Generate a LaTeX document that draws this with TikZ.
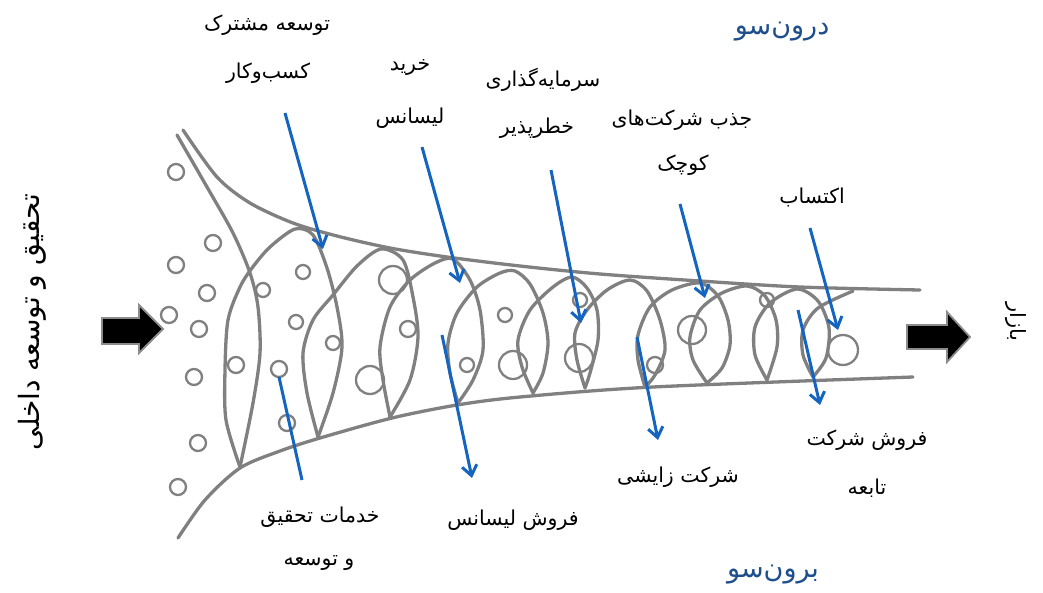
\documentclass[tikz,border=0pt]{standalone}
\usepackage{fontspec}
\usetikzlibrary{arrows.meta}
\TeXXeTstate=1
\newfontfamily\fa[Script=Arabic]{DejaVu Sans}
\definecolor{fgray}{RGB}{128,128,128}
\definecolor{fblue}{RGB}{21,101,192}
\definecolor{tblue}{RGB}{31,78,140}
\tikzset{
  coil/.style={draw=fgray, line width=3.3pt, line join=round, line cap=round},
  bub/.style={draw=fgray, line width=2.3pt},
  barrow/.style={draw=fblue, line width=3pt, -{Straight Barb[length=10pt,width=15pt,line width=3pt]}},
  bline/.style={draw=fblue, line width=3pt},
  lbl/.style={font=\fa\fontsize{20.5}{24}\selectfont, text=black, inner sep=0pt},
  ttl/.style={font=\fa\fontsize{27}{30}\selectfont, text=tblue, inner sep=0pt},
  side/.style={font=\fa\fontsize{28}{32}\selectfont, text=black, inner sep=0pt},
  sider/.style={font=\fa\fontsize{21}{24}\selectfont, text=black, inner sep=0pt},
  blk/.style={fill=black, draw=black!45, line width=1.8pt, line join=miter}
}
\begin{document}
\begin{tikzpicture}[x=1pt,y=-1pt]
\useasboundingbox (0,0) rectangle (1043,592);
% funnel boundaries
\draw[coil] plot[smooth] coordinates {(183,130) (217,177) (250,203) (293,223) (337,236) (390,248) (447,257) (520,266) (600,274) (700,281) (800,287) (920,290)};
\draw[coil] plot[smooth] coordinates {(178,538) (205,500) (240,468) (280,451) (320,438) (392,418) (457,405) (520,397) (653,387) (913,377)};
\draw[coil] plot[smooth] coordinates {(177,135) (207,187) (233,233) (250,273) (258,307) (260,353) (253,403) (240,467)};
% coils
\draw[coil] plot[smooth] coordinates {(240,467) (226,420) (225,370) (228,320) (240,287) (252,268) (270,247) (295,229) (313,235) (327,268) (337,307) (342,347) (333,393) (318,437)};
\draw[coil] plot[smooth] coordinates {(318,437) (307,393) (303,353) (313,320) (333,295) (357,266) (381,249) (403,260) (413,297) (418,337) (410,380) (390,417)};
\draw[coil] plot[smooth] coordinates {(390,417) (383,380) (380,347) (390,307) (410,280) (435,263) (453,259) (470,280) (480,310) (483,350) (473,380) (458,403)};
\draw[coil] plot[smooth] coordinates {(458,403) (450,373) (448,343) (457,313) (477,287) (500,273) (515,271) (530,284) (543,313) (548,343) (543,373) (533,393)};
\draw[coil] plot[smooth] coordinates {(533,393) (522,367) (518,340) (530,310) (553,287) (572,277) (587,288) (597,310) (598,340) (590,373) (585,388)};
\draw[coil] plot[smooth] coordinates {(585,388) (577,360) (575,333) (587,310) (607,290) (630,280) (647,291) (660,320) (665,350) (655,375) (645,387)};
\draw[coil] plot[smooth] coordinates {(645,387) (638,360) (638,335) (650,307) (672,290) (700,283) (718,296) (728,320) (730,345) (722,368) (707,383)};
\draw[coil] plot[smooth] coordinates {(707,383) (693,360) (690,337) (700,310) (722,293) (747,286) (765,296) (776,320) (777,347) (767,380)};
\draw[coil] plot[smooth] coordinates {(767,380) (755,355) (755,327) (770,303) (797,289) (818,301) (829,328) (826,358) (813,377)};
\draw[coil] plot[smooth] coordinates {(813,377) (803,355) (803,330) (818,308) (853,291)};
% bubbles
\foreach \x/\y/\r in {176/172/8, 213/243/8, 176/265/8, 207/293/8, 169/315/8, 199/329/8, 194/377/8, 198/443/8, 178/487/8,
  263/290/7, 303/272/7, 296/322/7, 236/365/8, 279/369/8, 287/423/8, 393/280/14, 333/343/7, 408/329/8, 370/380/14,
  505/315/7, 467/365/7, 513/365/14, 580/300/7, 579/358/14, 655/365/8, 692/330/14, 767/300/7, 843/350/15}
  \draw[bub] (\x,\y) circle[radius=\r];
% block arrows
\draw[blk] (102,318) -- (139,318) -- (139,305) -- (163,329) -- (139,353) -- (139,344) -- (102,344) -- cycle;
\draw[blk] (907,325) -- (947,325) -- (947,312) -- (970,337) -- (947,362) -- (947,349) -- (907,349) -- cycle;
% labels
\node[lbl] (t1) at (267,25) {\beginR توسعه مشترک\endR};
\node[lbl] (t1b) at (268,73) {\beginR کسب^^^^200cوکار\endR};
\node[lbl] (t2) at (410,67) {\beginR خرید\endR};
\node[lbl] (t2b) at (410,118) {\beginR لیسانس\endR};
\node[lbl] (t3) at (543,80) {\beginR سرمایه^^^^200cگذاری\endR};
\node[lbl] (t3b) at (537,128) {\beginR خطرپذیر\endR};
\node[lbl] (t4) at (682,120) {\beginR جذب شرکت^^^^200cهای\endR};
\node[lbl] (t4b) at (683,165) {\beginR کوچک\endR};
\node[lbl] (t5) at (812,197) {\beginR اکتساب\endR};
\node[ttl] (tin) at (782,32) {\beginR درون^^^^200cسو\endR};
\node[lbl] (b1) at (320,517) {\beginR خدمات تحقیق\endR};
\node[lbl] (b1b) at (319,563) {\beginR و توسعه\endR};
\node[lbl] (b2) at (513,520) {\beginR فروش لیسانس\endR};
\node[lbl] (b3) at (678,477) {\beginR شرکت زایشی\endR};
\node[lbl] (b4) at (867,440) {\beginR فروش شرکت\endR};
\node[lbl] (b4b) at (867,488) {\beginR تابعه\endR};
\node[ttl] (tout) at (773,575) {\beginR برون^^^^200cسو\endR};
\node[side, rotate=90] (rd) at (32,322) {\beginR تحقیق و توسعه داخلی\endR};
\node[sider, rotate=-90] (mk) at (1016,322) {\beginR بازار\endR};
% blue arrows
\coordinate (a1s) at (285,113); \coordinate (a1e) at (323,249);
\coordinate (a2s) at (422,147); \coordinate (a2e) at (460,283);
\coordinate (a3s) at (551,170); \coordinate (a3e) at (581,323);
\coordinate (a4s) at (680,204); \coordinate (a4e) at (705,298);
\coordinate (a5s) at (810,228); \coordinate (a5e) at (838,330);
\coordinate (b1s) at (279,377); \coordinate (b1e) at (302,480);
\coordinate (b2s) at (442,335); \coordinate (b2e) at (472,478);
\coordinate (b3s) at (637,337); \coordinate (b3e) at (658,440);
\coordinate (b4s) at (798,310); \coordinate (b4e) at (820,405);
\draw[barrow] (a1s) -- (a1e);
\draw[barrow] (a2s) -- (a2e);
\draw[barrow] (a3s) -- (a3e);
\draw[barrow] (a4s) -- (a4e);
\draw[barrow] (a5s) -- (a5e);
\draw[bline] (b1s) -- (b1e);
\draw[barrow] (b2s) -- (b2e);
\draw[barrow] (b3s) -- (b3e);
\draw[barrow] (b4s) -- (b4e);
\end{tikzpicture}
\end{document}
